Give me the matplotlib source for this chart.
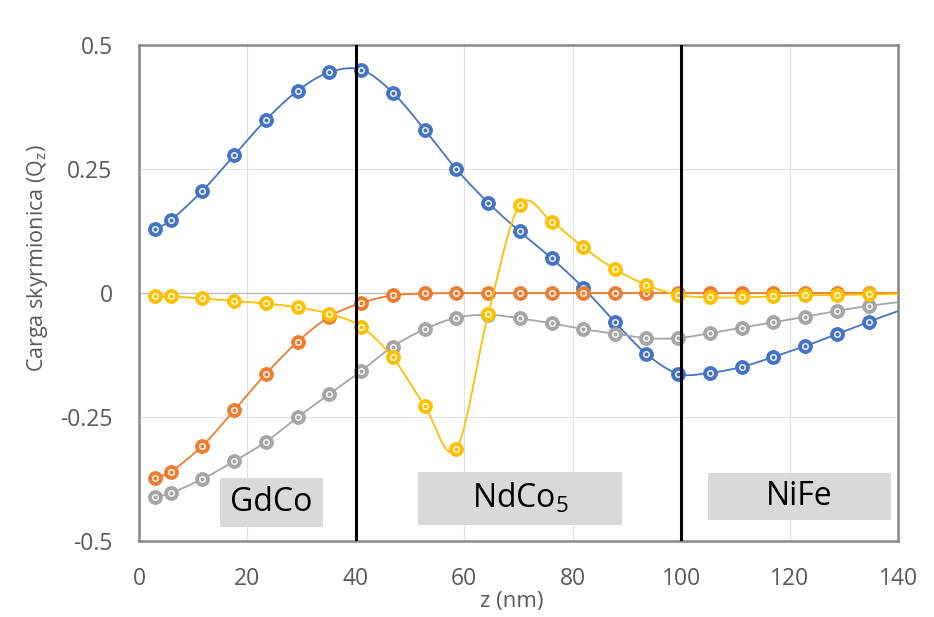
import numpy as np
import matplotlib
matplotlib.use("Agg")
import matplotlib.pyplot as plt
from matplotlib.patches import Rectangle

plt.rcParams['font.family'] = ['Open Sans', 'DejaVu Sans']
plt.rcParams['mathtext.default'] = 'regular'

# --- data ---
z_nm = [2.9, 5.9, 11.7, 17.6, 23.4, 29.3, 35.1, 41.0, 46.8, 52.7, 58.5, 64.4,
        70.2, 76.1, 81.9, 87.8, 93.6, 99.5, 105.3, 111.2, 117.0, 122.9, 128.7,
        134.6, 140.4]

q_blue = [0.129, 0.147, 0.206, 0.278, 0.349, 0.408, 0.445, 0.450, 0.404, 0.329,
          0.250, 0.182, 0.124, 0.070, 0.011, -0.059, -0.123, -0.163, -0.161,
          -0.149, -0.129, -0.107, -0.083, -0.058, -0.035]
q_orange = [-0.373, -0.360, -0.308, -0.236, -0.163, -0.098, -0.048, -0.020,
            -0.005, -0.001, 0.0, 0.0, 0.0, 0.0, 0.0, 0.0, 0.0, 0.0, 0.0, 0.0,
            0.0, 0.0, 0.0, 0.0, 0.0]
q_gray = [-0.411, -0.403, -0.375, -0.339, -0.300, -0.250, -0.204, -0.157,
          -0.108, -0.073, -0.050, -0.044, -0.051, -0.061, -0.073, -0.082,
          -0.091, -0.091, -0.081, -0.070, -0.059, -0.048, -0.036, -0.026, -0.018]
q_yellow = [-0.006, -0.007, -0.011, -0.016, -0.021, -0.029, -0.042, -0.068,
            -0.130, -0.228, -0.315, -0.043, 0.177, 0.144, 0.092, 0.048, 0.016,
            -0.004, -0.009, -0.009, -0.007, -0.005, -0.004, -0.003, -0.002]

series = [(q_blue, '#4472C4'), (q_orange, '#ED7D31'),
          (q_gray, '#A5A5A5'), (q_yellow, '#FFC000')]

layer_names = ['GdCo', 'NdCo$_5$', 'NiFe']
layer_bounds = [40, 100]


def excel_smooth(x, y, n=40):
    """Bezier smoothing like Excel's 'smoothed line' option."""
    pts = np.column_stack([x, y]).astype(float)
    pad = np.vstack([pts[:1], pts, pts[-1:]])
    t = np.linspace(0, 1, n)[:, None]
    out = []
    for i in range(len(pts) - 1):
        b, c = pad[i + 1], pad[i + 2]
        c1 = b + (pad[i + 2] - pad[i]) / 6
        c2 = c - (pad[i + 3] - pad[i + 1]) / 6
        seg = ((1 - t) ** 3) * b + 3 * ((1 - t) ** 2) * t * c1 \
            + 3 * (1 - t) * t ** 2 * c2 + t ** 3 * c
        out.append(seg if i == 0 else seg[1:])
    seg = np.vstack(out)
    return seg[:, 0], seg[:, 1]


fig = plt.figure(figsize=(9.34, 6.17), dpi=100)
ax = fig.add_axes([0.1488, 0.1232, 0.8127, 0.8039])

ax.set_xlim(0, 140)
ax.set_ylim(-0.5, 0.5)
ax.set_xticks(np.arange(0, 141, 20))
ax.set_yticks([-0.5, -0.25, 0, 0.25, 0.5])
ax.set_yticklabels(['-0.5', '-0.25', '0', '0.25', '0.5'])
ax.grid(True, color='#e0e0e0', lw=0.8)
ax.set_axisbelow(True)
ax.axhline(0, color='#bfbfbf', lw=1.0, zorder=1)

for sp in ax.spines.values():
    sp.set_color('#878787')
    sp.set_linewidth(1.8)

ax.tick_params(length=0, labelsize=16.5, labelcolor='#595959')
ax.tick_params(axis='x', pad=19)
ax.tick_params(axis='y', pad=19)

n_mark = len(z_nm) - 1  # last point only carries the line to the edge
for k, (vals, col) in enumerate(series):
    sx, sy = excel_smooth(z_nm, vals)
    ax.plot(sx, sy, color=col, lw=1.3, zorder=3 + k)
    ax.plot(z_nm[:n_mark], vals[:n_mark], ls='none', marker='o', ms=10,
            mfc=col, mec=col, mew=0.6, zorder=3 + k)
    ax.plot(z_nm[:n_mark], vals[:n_mark], ls='none', marker='o', ms=4.0,
            mfc='none', mec='white', mew=1.0, zorder=3 + k)

for xb in layer_bounds:
    ax.axvline(xb, color='black', lw=2.2, zorder=10)

boxes = [(14.9, -0.472, 19.0, 0.099),
         (51.5, -0.468, 37.6, 0.107),
         (105.0, -0.458, 33.7, 0.095)]
for name, (bx, by, bw, bh) in zip(layer_names, boxes):
    ax.add_patch(Rectangle((bx, by), bw, bh, facecolor='#d9d9d9',
                           edgecolor='none', zorder=11))
    ax.text(bx + bw / 2, by + bh / 2, name, ha='center', va='center',
            fontsize=23, color='black', zorder=12)

ax.set_xlabel('z (nm)', fontsize=16, color='#595959')
ax.xaxis.label.set_va('center')
ax.xaxis.set_label_coords(0.491, -0.121)
ax.set_ylabel('Carga skyrmionica (Q$_z$)', fontsize=15.5, color='#595959')
ax.yaxis.label.set_va('center')
ax.yaxis.set_label_coords(-0.134, 0.57)

fig.savefig('out.png', dpi=100, facecolor='white')
